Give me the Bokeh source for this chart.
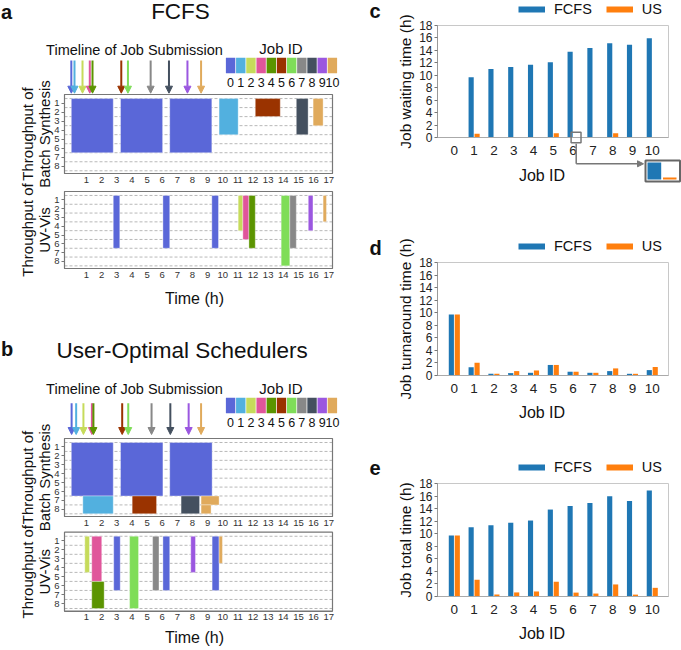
import math
from bokeh.plotting import figure
from bokeh.layouts import row, column
from bokeh.models import (Range1d, FixedTicker, Label, Arrow, NormalHead, LinearAxis,
                          BoxAnnotation, Legend, LegendItem, ColumnDataSource)
from bokeh.transform import dodge
from bokeh.core.properties import value
from bokeh.embed import file_html
from bokeh.resources import INLINE

FONT = "Liberation Sans"

# ---------------- data ----------------
job_ids = [0, 1, 2, 3, 4, 5, 6, 7, 8, 9, 10]
job_colors = ["#5a67d8", "#52b0df", "#c6db5b", "#e0559b", "#5b9400", "#9a3300",
              "#7fdd58", "#888888", "#44505f", "#9b57e0", "#e0aa5c"]
hour_ticks = list(range(1, 18))
sample_ticks = [1, 2, 3, 4, 5, 6, 7, 8]
time_ticks = [0, 2, 4, 6, 8, 10, 12, 14, 16, 18]

# submission times (h)
fcfs_submit = [0.0, 0.21, 0.74, 1.22, 1.40, 3.30, 3.74, 5.24, 6.45, 7.67, 8.57]
us_submit = [0.02, 0.32, 0.80, 1.36, 1.46, 3.36, 3.76, 5.30, 6.54, 7.75, 8.57]

# FCFS - batch synthesis
fcfs_syn_job = [0, 0, 0, 1, 5, 8, 10]
fcfs_syn_start = [0.0, 3.25, 6.5, 9.76, 12.15, 14.86, 15.97]
fcfs_syn_end = [2.77, 6.03, 9.28, 11.02, 13.8, 15.64, 16.63]
fcfs_syn_first = [1, 1, 1, 1, 1, 1, 1]
fcfs_syn_last = [6, 6, 6, 4, 2, 4, 3]

# FCFS - UV-Vis
fcfs_uv_job = [0, 0, 0, 2, 3, 4, 6, 7, 9, 10]
fcfs_uv_start = [2.77, 6.05, 9.28, 11.02, 11.33, 11.73, 13.86, 14.43, 15.65, 16.63]
fcfs_uv_end = [3.2, 6.5, 9.72, 11.33, 11.73, 12.15, 14.43, 14.86, 15.96, 16.85]
fcfs_uv_first = [1, 1, 1, 1, 1, 1, 1, 1, 1, 1]
fcfs_uv_last = [6, 6, 6, 4, 5, 6, 8, 6, 4, 3]

# User-optimal - batch synthesis
us_syn_job = [0, 0, 0, 1, 5, 8, 10, 10]
us_syn_start = [0.0, 3.25, 6.5, 0.76, 4.02, 7.25, 8.57, 8.57]
us_syn_end = [2.77, 6.05, 9.3, 2.77, 5.63, 8.47, 9.76, 9.23]
us_syn_first = [1, 1, 1, 7, 7, 7, 7, 8]
us_syn_last = [6, 6, 6, 8, 8, 8, 7, 8]

# User-optimal - UV-Vis
us_uv_job = [2, 3, 4, 0, 6, 7, 0, 9, 0, 10]
us_uv_start = [0.89, 1.35, 1.35, 2.8, 3.85, 5.37, 6.05, 7.89, 9.3, 9.76]
us_uv_end = [1.2, 2.01, 2.17, 3.23, 4.44, 5.79, 6.5, 8.2, 9.76, 9.98]
us_uv_first = [1, 1, 6, 1, 1, 1, 1, 1, 1, 1]
us_uv_last = [4, 5, 8, 6, 8, 6, 6, 4, 6, 3]

# job times (h)
wait_fcfs = [0.0, 9.7, 11.0, 11.35, 11.7, 12.1, 13.8, 14.4, 15.15, 14.9, 15.95]
wait_us = [0.0, 0.6, 0.0, 0.0, 0.0, 0.7, 0.0, 0.0, 0.7, 0.0, 0.0]
turn_fcfs = [9.7, 1.3, 0.27, 0.38, 0.43, 1.68, 0.6, 0.43, 0.7, 0.27, 0.86]
turn_us = [9.7, 2.05, 0.27, 0.7, 0.8, 1.68, 0.6, 0.43, 1.13, 0.27, 1.35]
total_fcfs = [9.7, 11.05, 11.35, 11.75, 12.1, 13.85, 14.4, 14.9, 15.95, 15.2, 16.9]
total_us = [9.7, 2.65, 0.3, 0.65, 0.8, 2.35, 0.62, 0.47, 1.92, 0.3, 1.38]

BLUE = "#1f77b4"
ORANGE = "#ff7f0e"

# ---------------- layout constants ----------------
LW, RW = 340, 341
GX = (-0.45, 17.25)        # gantt time range
R0, R1 = 0.05, 8.8         # gantt row range (top, bottom)
PX0, PX1 = 64, 332         # gantt plot area (px)
XR = (-0.85, 10.82)        # bar chart x range
BX0, BX1 = 97, 328         # bar plot area (px)
NAN = float("nan")


def base_fig(W, H, x_range, y_range):
    p = figure(width=W, height=H, x_range=x_range, y_range=y_range, min_border=0,
               x_axis_location=None, y_axis_location=None, title_location=None,
               outline_line_color=None, output_backend="svg", toolbar_location=None)
    p.grid.visible = False
    return p


def band_range(H, top_px, bottom_px):
    k = (bottom_px - top_px) / (R1 - R0)
    return Range1d(start=R0 + (H - top_px) / k, end=R0 - top_px / k)


def txt(p, x, y, text, size, **kw):
    opts = dict(x_range_name="px", text_font=FONT, text_baseline="middle",
                text_align="center", text_color="#111", text_font_size=size)
    opts.update(kw)
    p.add_layout(Label(x=x, y=y, text=text, **opts))


def axis_style(ax, size):
    ax.axis_line_color = "#777"
    ax.major_tick_line_color = "#777"
    ax.minor_tick_line_color = None
    ax.major_label_text_font = FONT
    ax.major_label_text_font_size = size
    ax.major_label_text_color = "#333"


def left_panel(H, letter, title, pos, submit, syn_px, uv_px, syn_data, uv_data):
    kt = (GX[1] - GX[0]) / (PX1 - PX0)
    p = base_fig(LW, H, Range1d(GX[0] - PX0 * kt, GX[1] + (LW - PX1) * kt), Range1d(H, 0))
    p.extra_x_ranges = {"px": Range1d(0, LW)}
    p.extra_y_ranges = {"syn": band_range(H, *syn_px), "uv": band_range(H, *uv_px)}

    # header
    txt(p, 0.5, pos["letter"], letter, "20px", text_font_style="bold", text_align="left")
    txt(p, pos["tx"], pos["title"], title, "22.5px")
    txt(p, 134, pos["tl"], "Timeline of Job Submission", "14.5px")
    txt(p, 280.5, pos["jid"], "Job ID", "15px")
    sw_x = [225 + 10.18 * (j + 0.5) for j in job_ids]
    p.rect(x=sw_x, y=pos["sw"], width=9.4, height=15.4, fill_color=job_colors,
           line_color=None, x_range_name="px")
    p.text(x=sw_x, y=pos["dig"], text=[str(j) for j in job_ids], text_align="center",
           text_baseline="middle", text_font=value(FONT), text_font_size="12.5px",
           text_color="#111", x_range_name="px")
    for t, c in zip(submit, job_colors):
        p.add_layout(Arrow(x_start=t, y_start=pos["a0"], x_end=t, y_end=pos["a1"],
                           line_color=c, line_width=2,
                           end=NormalHead(size=7, fill_color=c, line_color=c)))

    # gantt bands
    for name, px, data, lab2 in (("syn", syn_px, syn_data, "Batch Synthesis"),
                                 ("uv", uv_px, uv_data, "UV-Vis")):
        jobs, t0, t1, first, last = data
        p.segment(x0=GX[0], x1=GX[1], y0=[r + 0.5 for r in range(9)],
                  y1=[r + 0.5 for r in range(9)], y_range_name=name,
                  line_color="#b8b8b8", line_dash="3 2", line_width=1)
        src = ColumnDataSource(dict(left=t0, right=t1,
                                    top=[f - 0.5 for f in first],
                                    bottom=[l + 0.5 for l in last],
                                    color=[job_colors[j] for j in jobs]))
        p.quad(left="left", right="right", top="top", bottom="bottom", source=src,
               fill_color="color", line_color="white", line_alpha=0.35, line_width=1,
               y_range_name=name)
        p.add_layout(BoxAnnotation(left=GX[0], right=GX[1], top=R0, bottom=R1,
                                   y_range_name=name, fill_alpha=0, line_color="#777",
                                   line_alpha=1, line_width=1.2))
        ya = LinearAxis(y_range_name=name, fixed_location=GX[0], bounds=(R0, R1),
                        ticker=FixedTicker(ticks=sample_ticks),
                        major_tick_out=3, major_tick_in=0, major_label_standoff=2)
        axis_style(ya, "9.5px")
        p.add_layout(ya, "left")
        xa = LinearAxis(y_range_name=name, fixed_location=R1, bounds=GX,
                        ticker=FixedTicker(ticks=hour_ticks),
                        major_tick_out=0, major_tick_in=0, major_label_standoff=3)
        axis_style(xa, "9.5px")
        p.add_layout(xa, "below")
        cy = (px[0] + px[1]) / 2
        txt(p, 27, cy, "Throughput of", "15px", angle=math.pi / 2)
        txt(p, 43.5, cy, lab2, "15px", angle=math.pi / 2)

    txt(p, 194, pos["time"], "Time (h)", "16px")
    return p


def bar_panel(H, top, bot, fcfs, us, ylabel, letter, y_letter, y_legend, y_jobid, inset=False):
    kx = (XR[1] - XR[0]) / (BX1 - BX0)
    ky = 18 / (bot - top)
    p = base_fig(RW, H, Range1d(XR[0] - BX0 * kx, XR[1] + (RW - BX1) * kx),
                 Range1d(-(H - bot) * ky, 18 + top * ky))
    p.extra_x_ranges = {"px": Range1d(0, RW)}
    p.extra_y_ranges = {"py": Range1d(H, 0)}

    p.add_layout(BoxAnnotation(left=XR[0], right=XR[1], bottom=0, top=18, fill_alpha=0,
                               line_color="#c8c8c8", line_alpha=1, line_width=1,
                               level="underlay"))
    src = ColumnDataSource(dict(job=job_ids, fcfs=fcfs, us=us))
    p.vbar(x=dodge("job", -0.15), top="fcfs", width=0.26, source=src,
           fill_color=BLUE, line_color=None)
    p.vbar(x=dodge("job", 0.15), top="us", width=0.26, source=src,
           fill_color=ORANGE, line_color=None)

    ya = LinearAxis(fixed_location=XR[0], bounds=(0, 18), ticker=FixedTicker(ticks=time_ticks),
                    major_tick_out=3, major_tick_in=0, major_label_standoff=2)
    axis_style(ya, "12px")
    ya.axis_line_color = "#999"
    ya.major_label_text_color = "#222"
    p.add_layout(ya, "left")
    xa = LinearAxis(fixed_location=0, bounds=XR, ticker=FixedTicker(ticks=job_ids),
                    major_tick_out=0, major_tick_in=0, major_label_standoff=8)
    axis_style(xa, "13.5px")
    xa.axis_line_color = "#aaa"
    xa.major_label_text_color = "#222"
    p.add_layout(xa, "below")

    # legend keys (no visible data of their own)
    k1 = p.line(x=[NAN], y=[NAN], line_color=BLUE, line_width=6)
    k2 = p.line(x=[NAN], y=[NAN], line_color=ORANGE, line_width=6)
    leg = Legend(items=[LegendItem(label="FCFS", renderers=[k1]),
                        LegendItem(label="US", renderers=[k2])],
                 orientation="horizontal", location=(178, H - y_legend - 10),
                 border_line_color=None, background_fill_alpha=0, padding=0, margin=0,
                 spacing=14, glyph_width=27, glyph_height=20, label_height=20,
                 label_standoff=9, label_text_font=FONT, label_text_font_size="14.5px",
                 label_text_color="#111")
    p.add_layout(leg)

    lab = dict(y_range_name="py")
    txt(p, 29, y_letter, letter, "20px", text_font_style="bold", text_align="left", **lab)
    txt(p, 65, (top + bot) / 2, ylabel, "15.5px", angle=math.pi / 2, **lab)
    txt(p, 201.5, y_jobid, "Job ID", "16px", **lab)

    if inset:
        grey = "#777"
        p.add_layout(BoxAnnotation(left=5.9, right=6.4, bottom=-0.85, top=0.85,
                                   fill_alpha=0, line_color=grey, line_alpha=1, line_width=1.5))
        p.add_layout(Arrow(x_start=235.7, y_start=143.3, x_end=235.7, y_end=163.3, end=None,
                           x_range_name="px", y_range_name="py",
                           line_color=grey, line_width=1.5))
        p.add_layout(Arrow(x_start=235.7, y_start=163.3, x_end=303, y_end=163.3,
                           x_range_name="px", y_range_name="py",
                           line_color=grey, line_width=1.5,
                           end=NormalHead(size=6, fill_color=grey, line_color=grey)))
        p.add_layout(BoxAnnotation(left=305, right=339.5, top=160, bottom=181,
                                   x_range_name="px", y_range_name="py",
                                   fill_color="white", fill_alpha=1, line_color="#666",
                                   line_alpha=1, line_width=2))
        p.add_layout(BoxAnnotation(left=307, right=320.7, top=162, bottom=179,
                                   x_range_name="px", y_range_name="py",
                                   fill_color=BLUE, fill_alpha=1, line_color=None))
        p.add_layout(BoxAnnotation(left=322.5, right=336, top=177, bottom=179,
                                   x_range_name="px", y_range_name="py",
                                   fill_color=ORANGE, fill_alpha=1, line_color=None))
    return p


a = left_panel(318, "a", "FCFS",
               dict(letter=11, title=11.3, tx=180, tl=49, jid=48, sw=65, dig=82,
                    a0=60, a1=92.7, time=298),
               fcfs_submit, (94, 173), (191, 268),
               (fcfs_syn_job, fcfs_syn_start, fcfs_syn_end, fcfs_syn_first, fcfs_syn_last),
               (fcfs_uv_job, fcfs_uv_start, fcfs_uv_end, fcfs_uv_first, fcfs_uv_last))
b = left_panel(332, "b", "User-Optimal Schedulers",
               dict(letter=30, title=32, tx=181.7, tl=70.3, jid=70, sw=87, dig=103.7,
                    a0=84.7, a1=116, time=319),
               us_submit, (120, 198), (213.7, 292.7),
               (us_syn_job, us_syn_start, us_syn_end, us_syn_first, us_syn_last),
               (us_uv_job, us_uv_start, us_uv_end, us_uv_first, us_uv_last))

c = bar_panel(232, 25, 137, wait_fcfs, wait_us, "Job waiting time (h)", "c",
              10.8, 8.7, 175, inset=True)
d = bar_panel(218, 30, 143, turn_fcfs, turn_us, "Job turnaround time (h)", "d",
              15, 13.8, 180)
e = bar_panel(200, 33, 146, total_fcfs, total_us, "Job total time (h)", "e",
              17, 16.7, 183)

layout = row(column(a, b, spacing=0), column(c, d, e, spacing=0), spacing=0)

open("out.html", "w").write(file_html(layout, INLINE))
